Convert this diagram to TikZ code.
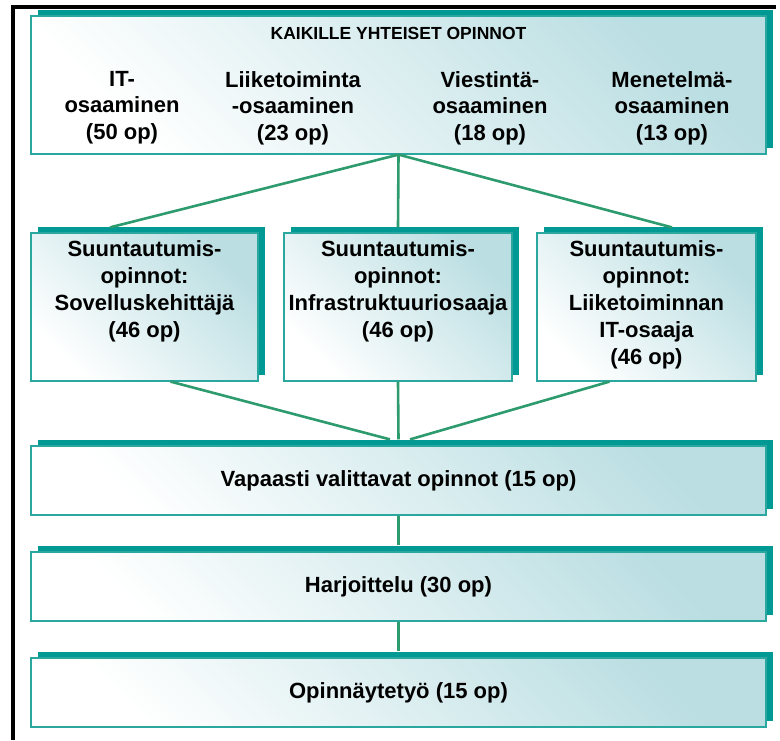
\documentclass[tikz,border=0pt]{standalone}
\usepackage{fontspec}
\setmainfont{Liberation Sans}
\usetikzlibrary{shadows}
\definecolor{shteal}{RGB}{0,153,148}
\definecolor{bordteal}{RGB}{42,168,160}
\definecolor{boxteal}{RGB}{186,222,226}
\definecolor{conngreen}{RGB}{46,155,110}
\begin{document}
\begin{tikzpicture}[x=1pt,y=-1pt,
  box/.style={draw=bordteal, line width=1.2pt, shading=axis, top color=boxteal,
    bottom color=white, shading angle=-45,
    general shadow={fill=shteal, shadow xshift=6.5pt, shadow yshift=6pt},
    inner sep=0pt, font=\bfseries\fontsize{22}{26}\selectfont},
  hdr/.style={font=\bfseries\fontsize{17.5}{20}\selectfont, inner sep=0pt},
  coltxt/.style={font=\bfseries\fontsize{22}{26.5}\selectfont, align=center, inner sep=0pt, anchor=north},
  midtxt/.style={font=\bfseries\fontsize{22}{27}\selectfont, align=center, inner sep=0pt, anchor=north},
  conn/.style={draw=conngreen, line width=2.6pt}
]
\useasboundingbox (0,0) rectangle (780,740);
\draw[line width=3.5pt] (13,740) -- (13,7) -- (776,7);

% boxes
\node[box, minimum width=735pt, minimum height=138pt] (top) at (398.5,85) {};
\node[box, minimum width=227pt, minimum height=148pt] (m1) at (144.5,307) {};
\node[box, minimum width=228pt, minimum height=148pt] (m2) at (398,307) {};
\node[box, minimum width=219pt, minimum height=148pt] (m3) at (646.5,307) {};
\node[box, minimum width=735pt, minimum height=69pt] (b1) at (398.5,480.5) {Vapaasti valittavat opinnot (15 op)};
\node[box, minimum width=735pt, minimum height=69pt] (b2) at (398.5,586.5) {Harjoittelu (30 op)};
\node[box, minimum width=735pt, minimum height=69pt] (b3) at (398.5,692.5) {Opinnäytetyö (15 op)};

% connectors
\draw[conn] (top.south) -- ([xshift=-34.5pt,yshift=5pt]m1.north);
\draw[conn] (top.south) -- ([yshift=5pt]m2.north);
\draw[conn] (top.south) -- ([xshift=25.5pt,yshift=5pt]m3.north);
\draw[conn] ([xshift=26pt]m1.south) -- ([xshift=-8.5pt,yshift=6pt]b1.north);
\draw[conn] (m2.south) -- ([yshift=6pt]b1.north);
\draw[conn] ([xshift=-37pt]m3.south) -- ([xshift=11.5pt,yshift=6pt]b1.north);
\draw[conn] (b1.south) -- ([yshift=6pt]b2.north);
\draw[conn] (b2.south) -- ([yshift=6pt]b3.north);

% texts in top box
\node[hdr, anchor=base] (kai) at (398.5,39) {KAIKILLE YHTEISET OPINNOT};
\node[coltxt] (c1) at (122,71) {IT-\\osaaminen\\(50 op)};
\node[coltxt] (c2) at (293,71) {Liiketoiminta\\-osaaminen\\(23 op)};
\node[coltxt] (c3) at (490,71) {Viestintä-\\osaaminen\\(18 op)};
\node[coltxt] (c4) at (672,71) {Menetelmä-\\osaaminen\\(13 op)};

% texts in middle boxes
\node[midtxt] (t1) at (144.5,240) {Suuntautumis-\\opinnot:\\Sovelluskehittäjä\\(46 op)};
\node[midtxt] (t2) at (398,240) {Suuntautumis-\\opinnot:\\Infrastruktuuriosaaja\\(46 op)};
\node[midtxt] (t3) at (646.5,240) {Suuntautumis-\\opinnot:\\Liiketoiminnan\\IT-osaaja\\(46 op)};
\end{tikzpicture}
\end{document}
